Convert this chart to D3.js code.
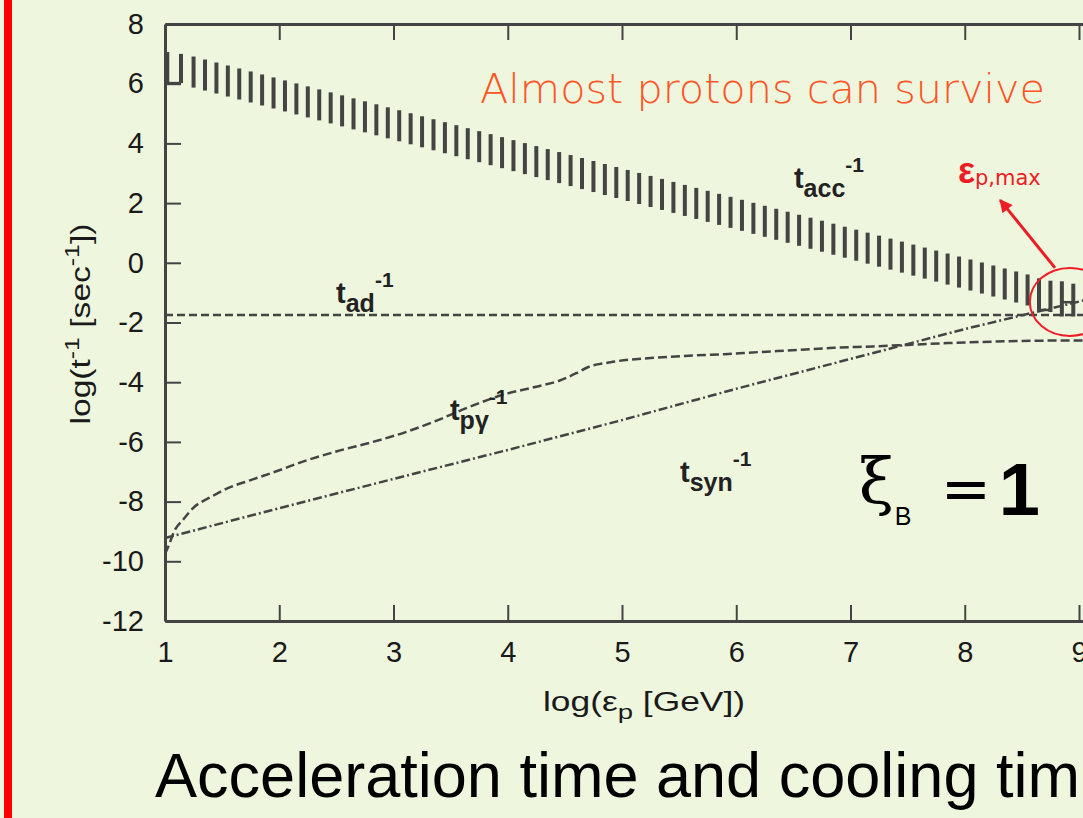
<!DOCTYPE html>
<html>
<head>
<meta charset="utf-8">
<script src="https://cdn.jsdelivr.net/npm/d3@7"></script>
<style>
  html, body { margin: 0; padding: 0; background: #eef6de; overflow: hidden; }
  svg { display: block; }
</style>
</head>
<body>
<div id="chart"></div>
<script>
// ---- data (log10 units) ----
const xTicks = [1, 2, 3, 4, 5, 6, 7, 8, 9];
const topTicks = [2, 3, 4, 5, 6, 7, 8, 9];
const yTicks = [-12, -10, -8, -6, -4, -2, 0, 2, 4, 6, 8];

// t_acc^-1 band, drawn as vertical bars
const accE = [1.02, 1.14, 1.25, 1.35, 1.45, 1.55, 1.65, 1.75, 1.85, 1.95,
  2.05, 2.15, 2.25, 2.35, 2.45, 2.55, 2.65, 2.75, 2.85, 2.95,
  3.05, 3.15, 3.25, 3.35, 3.45, 3.55, 3.65, 3.75, 3.85, 3.95,
  4.05, 4.15, 4.25, 4.35, 4.45, 4.55, 4.65, 4.75, 4.85, 4.95,
  5.05, 5.15, 5.25, 5.35, 5.45, 5.55, 5.65, 5.75, 5.85, 5.95,
  6.05, 6.15, 6.25, 6.35, 6.45, 6.55, 6.65, 6.75, 6.85, 6.95,
  7.05, 7.15, 7.25, 7.35, 7.45, 7.55, 7.65, 7.75, 7.85, 7.95,
  8.05, 8.15, 8.25, 8.35, 8.45, 8.55, 8.65, 8.75, 8.85, 8.95];
const accHigh = [7.06, 7.00, 6.91, 6.81, 6.71, 6.61, 6.51, 6.41, 6.31, 6.21,
  6.11, 6.01, 5.91, 5.81, 5.71, 5.61, 5.51, 5.41, 5.31, 5.21,
  5.11, 5.01, 4.91, 4.81, 4.71, 4.61, 4.51, 4.41, 4.31, 4.21,
  4.11, 4.01, 3.91, 3.81, 3.71, 3.61, 3.51, 3.41, 3.31, 3.21,
  3.11, 3.01, 2.91, 2.81, 2.71, 2.61, 2.51, 2.41, 2.31, 2.21,
  2.11, 2.01, 1.91, 1.81, 1.71, 1.61, 1.51, 1.41, 1.31, 1.21,
  1.11, 1.01, 0.91, 0.81, 0.71, 0.61, 0.51, 0.41, 0.31, 0.21,
  0.11, 0.01, -0.09, -0.19, -0.29, -0.39, -0.52, -0.60, -0.62, -0.70];
const accLow = [6.02, 6.02, 5.87, 5.77, 5.67, 5.57, 5.47, 5.37, 5.27, 5.17,
  5.07, 4.97, 4.87, 4.77, 4.67, 4.57, 4.47, 4.37, 4.27, 4.17,
  4.07, 3.97, 3.87, 3.77, 3.67, 3.57, 3.47, 3.37, 3.27, 3.17,
  3.07, 2.97, 2.87, 2.77, 2.67, 2.57, 2.47, 2.37, 2.27, 2.17,
  2.07, 1.97, 1.87, 1.77, 1.67, 1.57, 1.47, 1.37, 1.27, 1.17,
  1.07, 0.97, 0.87, 0.77, 0.67, 0.57, 0.47, 0.37, 0.27, 0.17,
  0.07, -0.03, -0.13, -0.23, -0.33, -0.43, -0.53, -0.63, -0.73, -0.83,
  -0.93, -1.03, -1.13, -1.23, -1.33, -1.43, -1.62, -1.65, -1.80, -1.80];
// bars joined at the foot ("U"/"H" shapes)
const accJoins = [[0, 1, 6.02], [76, 77, -1.58], [78, 79, -1.32]];

// t_ad^-1 (adiabatic)
const adE = [1, 10];
const adRate = [-1.75, -1.75];

// t_pγ^-1
const pgE = [1.0, 1.03, 1.08, 1.16, 1.25, 1.4, 1.55, 1.75, 2.0, 2.2, 2.5, 2.8, 3.1, 3.35,
  3.65, 3.95, 4.25, 4.45, 4.6, 4.7, 4.9, 5.25, 5.55, 5.9, 6.2, 6.55, 6.85, 7.2, 7.5,
  7.85, 8.15, 8.5, 9.0, 9.2];
const pgRate = [-9.75, -9.5, -9.0, -8.6, -8.2, -7.85, -7.55, -7.28, -6.95, -6.67, -6.32, -6.02, -5.68, -5.33,
  -4.85, -4.43, -4.15, -3.95, -3.7, -3.5, -3.33, -3.19, -3.12, -3.06, -2.99, -2.92, -2.85, -2.8, -2.75,
  -2.69, -2.65, -2.62, -2.6, -2.6];

// t_syn^-1
const synE = [1, 2, 3, 4, 5, 6, 7, 8, 9, 9.2];
const synRate = [-9.22, -8.22, -7.24, -6.27, -5.27, -4.22, -3.22, -2.22, -1.3, -1.1];

// ---- layout ----
const W = 1083, H = 818;
const svg = d3.select("#chart").append("svg")
  .attr("width", W).attr("height", H)
  .style("font-family", "'Liberation Sans', Arial, sans-serif");

svg.append("rect").attr("width", W).attr("height", H).attr("fill", "#eef6de");
svg.append("rect").attr("x", 4).attr("y", 0).attr("width", 8).attr("height", H).attr("fill", "#ff0000");

const x = d3.scaleLinear().domain([1, 10]).range([165, 165 + 9 * 114.25]);
const y = d3.scaleLinear().domain([-12, 8]).range([621, 24]);
const ink = "#444";

// marker for the red arrow
svg.append("defs").append("marker")
  .attr("id", "head").attr("viewBox", "0 0 10 10")
  .attr("refX", 9).attr("refY", 5)
  .attr("markerWidth", 16).attr("markerHeight", 13)
  .attr("markerUnits", "userSpaceOnUse")
  .attr("orient", "auto")
  .append("path").attr("d", "M0,0L10,5L0,10z").attr("fill", "#ee1c24");

// ---- curves ----
const line = d3.line().x(d => x(d[0])).y(d => y(d[1]));
const zip = (a, b) => a.map((v, i) => [v, b[i]]);

svg.append("path").datum(zip(adE, adRate))
  .attr("d", line).attr("fill", "none")
  .attr("stroke", ink).attr("stroke-width", 2.5).attr("stroke-dasharray", "8,4");

svg.append("path").datum(zip(pgE, pgRate))
  .attr("d", line.curve(d3.curveMonotoneX)).attr("fill", "none")
  .attr("stroke", ink).attr("stroke-width", 2.5).attr("stroke-dasharray", "9,4");

svg.append("path").datum(zip(synE, synRate))
  .attr("d", line.curve(d3.curveLinear)).attr("fill", "none")
  .attr("stroke", ink).attr("stroke-width", 2.5).attr("stroke-dasharray", "9,3,2,3");

// acceleration band
const bars = svg.append("g").attr("stroke", ink).attr("stroke-width", 4);
bars.selectAll("line.bar")
  .data(accE)
  .join("line")
  .attr("class", "bar")
  .attr("x1", d => x(d)).attr("x2", d => x(d))
  .attr("y1", (d, i) => y(accHigh[i])).attr("y2", (d, i) => y(accLow[i]));
bars.selectAll("line.join")
  .data(accJoins)
  .join("line")
  .attr("class", "join")
  .attr("stroke-width", 2.5)
  .attr("x1", d => x(accE[d[0]])).attr("x2", d => x(accE[d[1]]))
  .attr("y1", d => y(d[2])).attr("y2", d => y(d[2]));

// ---- axes ----
function styleAxis(g) {
  g.select(".domain").attr("stroke", ink).attr("stroke-width", 3);
  g.selectAll(".tick line").attr("stroke", ink).attr("stroke-width", 2);
  g.selectAll(".tick text").attr("fill", "#1a1a1a")
    .style("font-family", "'Liberation Sans', Arial, sans-serif").style("font-size", "29px");
}
const plain = d => String(d);   // hyphen minus, like the original
svg.append("g").attr("transform", `translate(${x(1)},0)`)
  .call(d3.axisLeft(y).tickValues(yTicks).tickSize(-16).tickSizeOuter(0).tickPadding(21).tickFormat(plain))
  .call(styleAxis);
svg.append("g").attr("transform", `translate(0,${y(-12)})`)
  .call(d3.axisBottom(x).tickValues(xTicks).tickSize(-16).tickSizeOuter(0).tickPadding(20).tickFormat(plain))
  .call(styleAxis);
svg.append("g").attr("transform", `translate(0,${y(8)})`)
  .call(d3.axisTop(x).tickValues(topTicks).tickSize(-16).tickSizeOuter(0).tickFormat(""))
  .call(styleAxis);

// axis titles
const xt = svg.append("text")
  .attr("x", 543).attr("y", 711)
  .attr("textLength", 202).attr("lengthAdjust", "spacingAndGlyphs")
  .attr("fill", "#1a1a1a").style("font-size", "27px");
xt.append("tspan").text("log(ε");
xt.append("tspan").attr("dy", 8).style("font-size", "21px").text("p");
xt.append("tspan").attr("dy", -8).text(" [GeV])");

const yt = svg.append("text")
  .attr("transform", "translate(90,324) rotate(-90)")
  .attr("text-anchor", "middle")
  .attr("textLength", 201).attr("lengthAdjust", "spacingAndGlyphs")
  .attr("fill", "#1a1a1a").style("font-size", "27px");
yt.append("tspan").text("log(t");
yt.append("tspan").attr("dy", -11).style("font-size", "20px").text("-1");
yt.append("tspan").attr("dy", 11).text(" [sec");
yt.append("tspan").attr("dy", -11).style("font-size", "20px").text("-1");
yt.append("tspan").attr("dy", 11).text("])");

// ---- rate labels t_xx^-1 ----
const rateLabels = [
  {sub: "acc", e: 6.505, r: 2.51},
  {sub: "ad", e: 2.497, r: -1.35},
  {sub: "pγ", e: 3.494, r: -5.27},
  {sub: "syn", e: 5.508, r: -7.34}
];
rateLabels.forEach(l => {
  const t = svg.append("text")
    .attr("x", x(l.e)).attr("y", y(l.r))
    .attr("fill", "#222").style("font-weight", "bold").style("font-size", "29px");
  t.append("tspan").text("t");
  t.append("tspan").attr("dy", 9).style("font-size", "25px").text(l.sub);
  t.append("tspan").attr("dy", -25).style("font-size", "21px").text("-1");
});

// ---- slide annotations ----
svg.append("text")
  .attr("x", x(3.757)).attr("y", y(5.35))
  .attr("textLength", 565).attr("lengthAdjust", "spacingAndGlyphs")
  .attr("fill", "#ff5526")
  .style("font-family", "'DejaVu Sans', Verdana, sans-serif")
  .style("font-size", "41px").style("font-weight", 300)
  .text("Almost protons can survive");

const em = svg.append("text")
  .attr("x", x(7.94)).attr("y", y(2.67))
  .attr("fill", "#ee1c24");
em.append("tspan").style("font-size", "36px").style("font-weight", "bold").text("ε");
em.append("tspan").attr("dy", 2).style("font-size", "21px")
  .style("font-family", "'DejaVu Sans', Verdana, sans-serif").text("p,max");

svg.append("line")
  .attr("x1", x(8.79)).attr("y1", y(-0.17))
  .attr("x2", x(8.31)).attr("y2", y(2.10))
  .attr("stroke", "#ee1c24").attr("stroke-width", 3)
  .attr("marker-end", "url(#head)");

svg.append("ellipse")
  .attr("cx", x(8.92)).attr("cy", y(-1.31))
  .attr("rx", 40).attr("ry", 34)
  .attr("fill", "none").attr("stroke", "#ee1c24").attr("stroke-width", 2);

// ξ_B = 1
const xi = svg.append("g").attr("transform", `translate(${x(7.09)},${y(-8.05)})`).attr("fill", "#000");
xi.append("text").attr("x", -2).attr("y", 0)
  .style("font-family", "'DejaVu Serif', serif").style("font-size", "64px").text("ξ");
xi.append("text").attr("x", 34).attr("y", 22)
  .style("font-size", "25px").text("B");
xi.append("text").attr("x", 80).attr("y", 6)
  .style("font-family", "'DejaVu Sans', sans-serif").style("font-size", "60px").text("=");
xi.append("text").attr("x", 138).attr("y", 12)
  .style("font-size", "74px").style("font-weight", "bold").text("1");

// slide caption (the slide shows it clipped after "tim")
svg.append("text")
  .attr("x", 155).attr("y", 797)
  .attr("textLength", 925).attr("lengthAdjust", "spacingAndGlyphs")
  .attr("fill", "#000")
  .style("font-size", "63px")
  .text("Acceleration time and cooling tim");
</script>
</body>
</html>
